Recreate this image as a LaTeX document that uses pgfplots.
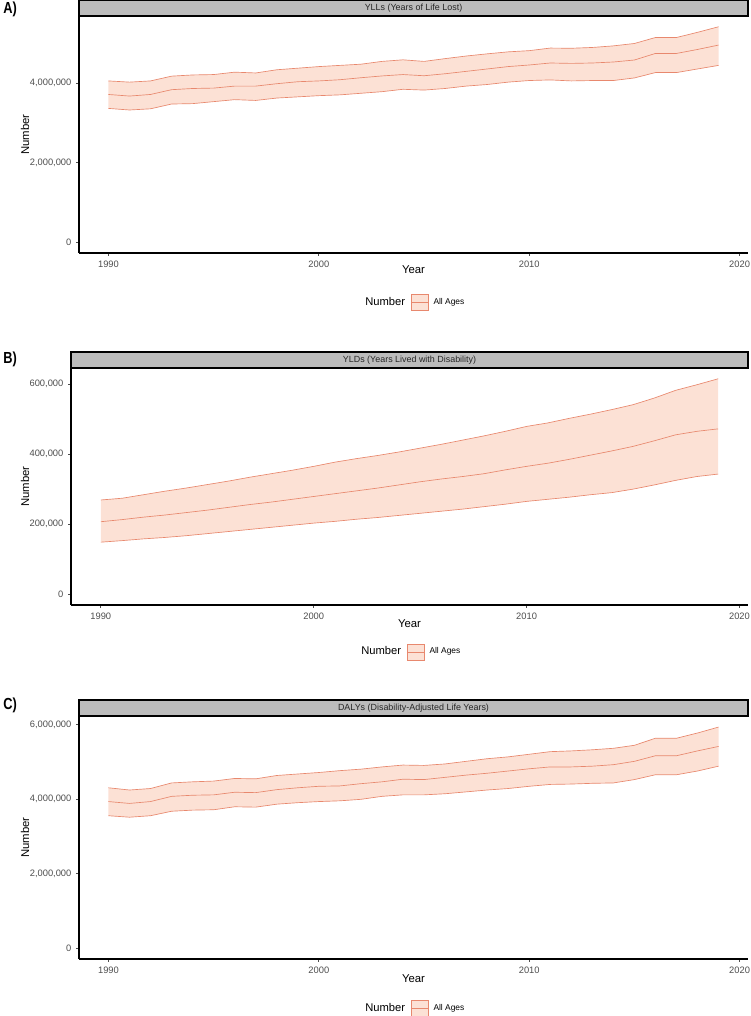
\documentclass[border=0pt]{standalone}
\usepackage{fontspec}
\setmainfont{Liberation Sans}
\newfontfamily\panelfont{Liberation Sans}[FakeStretch=0.8]
\usepackage{pgfplots}
\pgfplotsset{compat=1.18}
\usepgfplotslibrary{fillbetween}
\usepackage{pgfplotstable}
\definecolor{linecol}{RGB}{232,136,110}
\definecolor{bandfill}{RGB}{252,225,213}
\definecolor{stripgray}{RGB}{188,188,188}
\definecolor{ticktext}{RGB}{77,77,77}

\pgfplotstableread{
year U M L
1990 4050000 3710000 3360000
1991 4020000 3670000 3320000
1992 4050000 3710000 3350000
1993 4170000 3830000 3470000
1994 4200000 3860000 3480000
1995 4210000 3870000 3530000
1996 4270000 3920000 3580000
1997 4250000 3920000 3560000
1998 4330000 3980000 3620000
1999 4370000 4030000 3650000
2000 4410000 4050000 3680000
2001 4440000 4080000 3700000
2002 4470000 4130000 3740000
2003 4540000 4175000 3780000
2004 4580000 4210000 3840000
2005 4540000 4180000 3820000
2006 4610000 4230000 3860000
2007 4675000 4290000 3920000
2008 4730000 4350000 3960000
2009 4780000 4410000 4020000
2010 4810000 4450000 4060000
2011 4875000 4500000 4075000
2012 4870000 4490000 4050000
2013 4890000 4500000 4060000
2014 4930000 4525000 4060000
2015 4990000 4575000 4125000
2016 5140000 4740000 4260000
2017 5140000 4740000 4260000
2018 5270000 4840000 4350000
2019 5410000 4950000 4440000
}\dataA

\pgfplotstableread{
year U M L
1990 269000 207000 148600
1991 274000 213000 153000
1992 284000 220000 158000
1993 294000 226000 162000
1994 303000 233000 167000
1995 313000 240000 173000
1996 323000 248000 179000
1997 334000 256000 185000
1998 344000 263000 191000
1999 354000 271000 197000
2000 365000 279000 203000
2001 377000 287000 208000
2002 387000 295000 214000
2003 396000 303000 219000
2004 406000 312000 225000
2005 417000 321000 231000
2006 428000 329000 237000
2007 440000 336000 243000
2008 452000 344000 250000
2009 465000 355000 257000
2010 479000 365000 265000
2011 489000 374000 271000
2012 502000 385000 277000
2013 514000 397000 284000
2014 527000 409000 290000
2015 541000 422000 300000
2016 560000 438000 312000
2017 582000 455000 325000
2018 598000 465000 336000
2019 615000 472000 343000
}\dataB

\pgfplotstableread{
year U M L
1990 4300000 3930000 3550000
1991 4240000 3880000 3510000
1992 4280000 3930000 3550000
1993 4430000 4070000 3670000
1994 4460000 4100000 3700000
1995 4480000 4110000 3710000
1996 4550000 4180000 3790000
1997 4540000 4170000 3780000
1998 4630000 4250000 3860000
1999 4670000 4300000 3900000
2000 4710000 4340000 3930000
2001 4760000 4350000 3950000
2002 4800000 4410000 3990000
2003 4860000 4460000 4070000
2004 4910000 4530000 4110000
2005 4900000 4520000 4110000
2006 4940000 4580000 4140000
2007 5010000 4640000 4190000
2008 5080000 4690000 4240000
2009 5130000 4750000 4280000
2010 5200000 4810000 4340000
2011 5270000 4860000 4390000
2012 5290000 4860000 4400000
2013 5320000 4880000 4420000
2014 5360000 4920000 4430000
2015 5440000 5010000 4520000
2016 5630000 5160000 4650000
2017 5630000 5160000 4650000
2018 5770000 5290000 4750000
2019 5930000 5410000 4880000
}\dataC

\pgfplotsset{
  gbd/.style={
    scale only axis,
    axis lines=left,
    axis line style={-, line width=0.8pt, black},
    tick align=outside,
    major tick length=2.2pt,
    tick style={line width=0.6pt, ticktext},
    xmin=1988.6, xmax=2020.4,
    xtick={1990,2000,2010,2020},
    xticklabel style={/pgf/number format/1000 sep=},
    yticklabel style={/pgf/number format/fixed,/pgf/number format/1000 sep={,}},
    scaled y ticks=false,
    /pgf/number format/assume math mode=true,
    ticklabel style={font=\fontsize{7}{8}\selectfont, text=ticktext},
    xlabel={Year}, ylabel={Number},
    label style={font=\fontsize{8.5}{10}\selectfont},
    clip=false,
    legend style={draw=none, fill=none, legend columns=2, column sep=2pt,
      font=\fontsize{6.3}{7.5}\selectfont, anchor=center},
  },
  bandimg/.style={legend image code/.code={
      \draw[fill=bandfill,draw=linecol,line width=0.5pt] (0pt,-6pt) rectangle (12.75pt,6pt);
      \draw[linecol,line width=0.5pt] (0pt,0pt) -- (12.75pt,0pt);}},
  dline/.style={linecol, line width=0.5pt, forget plot},
}

\newcommand{\band}[1]{%
  \addplot[draw=none, name path=U, forget plot] table[x=year,y=U]{#1};
  \addplot[draw=none, name path=L, forget plot] table[x=year,y=L]{#1};
  \addplot[bandfill, forget plot] fill between[of=U and L];
  \addplot[dline] table[x=year,y=U]{#1};
  \addplot[dline] table[x=year,y=M]{#1};
  \addplot[dline] table[x=year,y=L]{#1};
  \addlegendimage{empty legend}\addlegendentry{\fontsize{8.4}{10}\selectfont Number}
  \addlegendimage{bandimg}\addlegendentry{All Ages}
}
\newcommand{\strip}[1]{%
  \draw[fill=stripgray, draw=black, line width=0.9pt] (rel axis cs:0,1) rectangle ([yshift=12pt]rel axis cs:1,1);
  \node[font=\fontsize{6.7}{8}\selectfont, text={black!85}] at ([yshift=6pt]rel axis cs:0.5,1) {#1};
}

\begin{document}
\begin{tikzpicture}

% Panel A
\begin{axis}[gbd, at={(59.25pt,-189.75pt)}, anchor=south west,
  width=501.75pt, height=177.75pt,
  ymin=-270000, ymax=5680000, ytick={0,2000000,4000000},
  x label style={at={(axis description cs:0.5,-0.0717)}, anchor=center},
  y label style={at={(axis description cs:-0.0807,0.5)}, anchor=center},
  legend style={at={(0.5,-0.207)}}]
\band{\dataA}
\strip{YLLs (Years of Life Lost)}
\end{axis}

% Panel B
\begin{axis}[gbd, at={(53.25pt,-453.75pt)}, anchor=south west,
  width=507.75pt, height=177.75pt,
  ymin=-30750, ymax=645750, ytick={0,200000,400000,600000},
  x label style={at={(axis description cs:0.5,-0.080)}, anchor=center},
  y label style={at={(axis description cs:-0.068,0.5)}, anchor=center},
  legend style={at={(0.5,-0.198)}}]
\band{\dataB}
\strip{YLDs (Years Lived with Disability)}
\end{axis}

% Panel C
\begin{axis}[gbd, at={(59.25pt,-719.25pt)}, anchor=south west,
  width=501.75pt, height=182.25pt,
  ymin=-296500, ymax=6226500, ytick={0,2000000,4000000,6000000},
  x label style={at={(axis description cs:0.5,-0.082)}, anchor=center},
  y label style={at={(axis description cs:-0.0807,0.5)}, anchor=center},
  legend style={at={(0.5,-0.2016)}}]
\band{\dataC}
\strip{DALYs (Disability-Adjusted Life Years)}
\end{axis}

\node[font=\panelfont\bfseries\fontsize{12}{14}\selectfont, anchor=west] at (-1pt,-6.75pt) {A)};
\node[font=\panelfont\bfseries\fontsize{12}{14}\selectfont, anchor=west] at (-1pt,-269.25pt) {B)};
\node[font=\panelfont\bfseries\fontsize{12}{14}\selectfont, anchor=west] at (-1pt,-528.75pt) {C)};
\pgfresetboundingbox
\path (0pt,0pt) rectangle (562.5pt,-762pt);
\end{tikzpicture}
\end{document}
